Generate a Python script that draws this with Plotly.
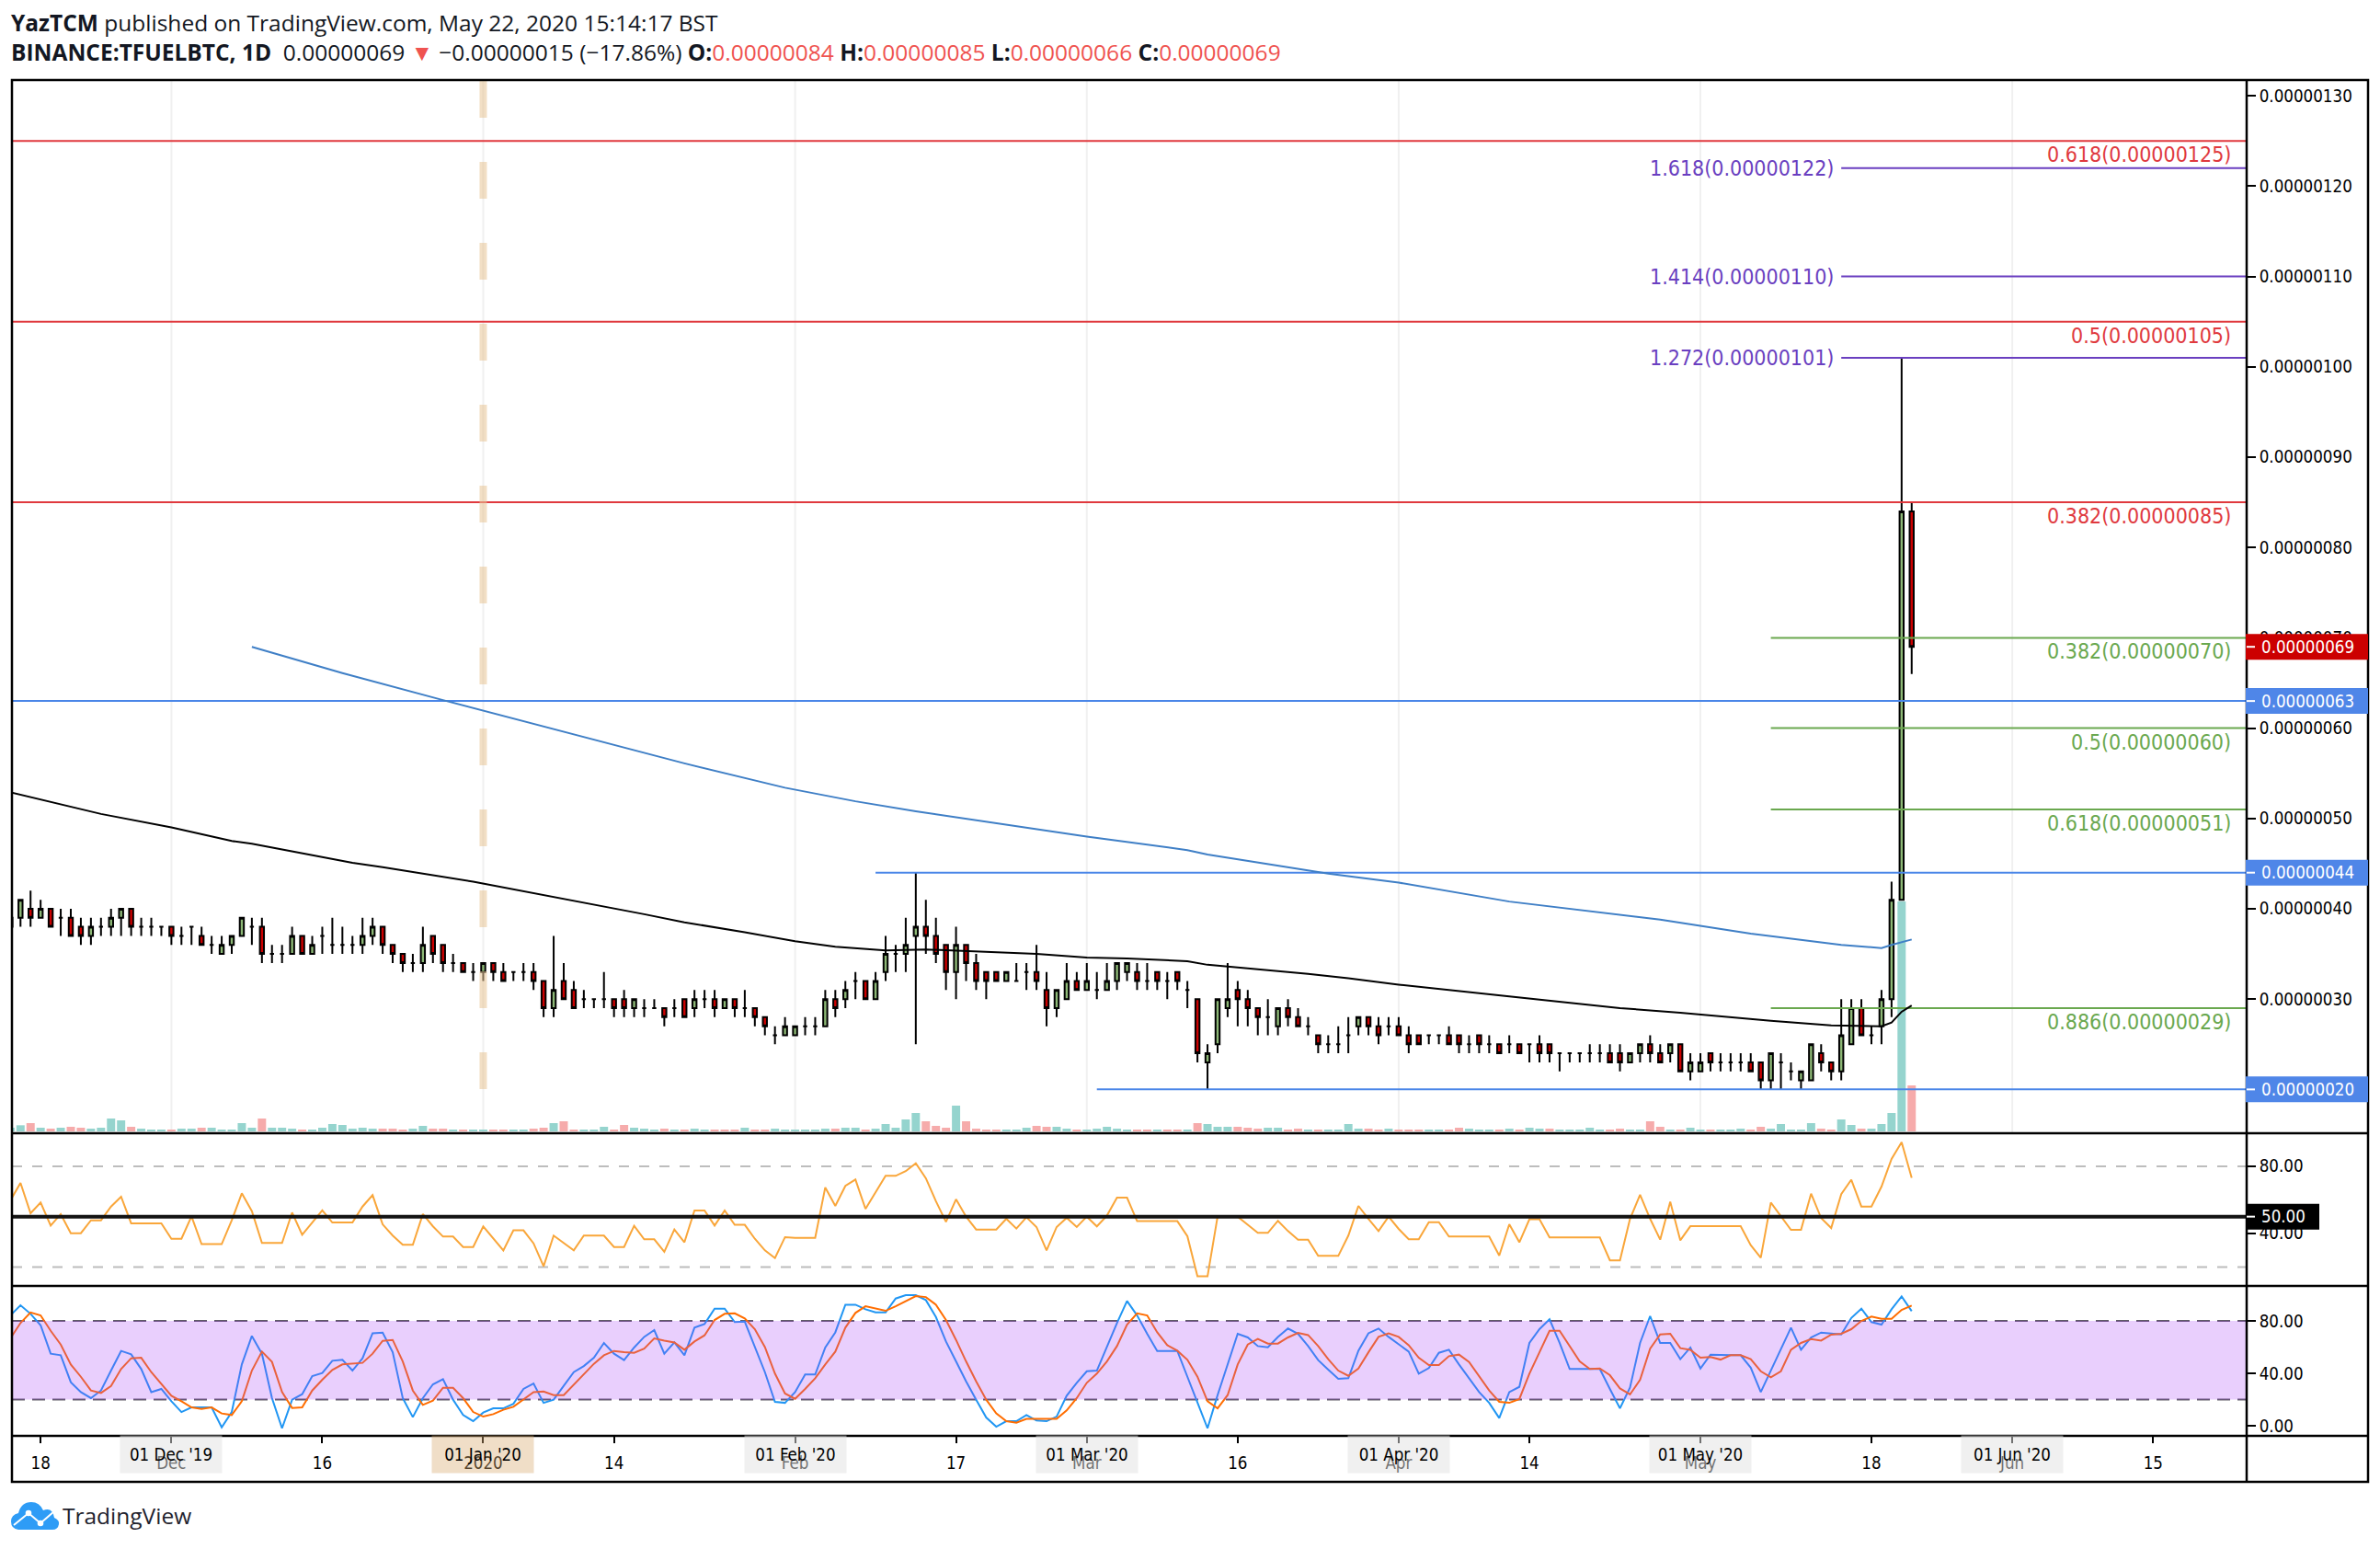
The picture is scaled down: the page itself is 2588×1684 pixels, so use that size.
import pandas as pd
import plotly.graph_objects as go

# ---- Daily series, prices in units of 0.00000001 BTC (one row = ten sessions) ----
first_day = "2019-11-15"

opens = [
    39, 39, 40, 39, 40, 39, 39, 38, 37, 38,
    38, 39, 40, 38, 38, 38, 38, 37, 38, 37,
    36, 35, 36, 37, 38, 38, 35, 35, 35, 37,
    35, 37, 36, 36, 36, 36, 37, 38, 36, 35,
    34, 34, 37, 36, 34, 34, 33, 33, 34, 33,
    33, 33, 33, 32, 29, 32, 31, 30, 30, 30,
    30, 30, 29, 29, 29, 29, 29, 30, 29, 30,
    30, 29, 30, 29, 29, 28, 26, 26, 26, 27,
    27, 27, 30, 30, 32, 32, 30, 33, 35, 35,
    37, 38, 37, 36, 33, 36, 34, 33, 33, 32,
    32, 33, 33, 31, 29, 30, 32, 31, 31, 31,
    32, 33, 33, 32, 33, 32, 33, 31, 30, 23,
    25, 29, 31, 30, 29, 28, 27, 29, 28, 27,
    26, 25, 25, 26, 27, 28, 27, 27, 27, 26,
    26, 26, 26, 26, 26, 25, 26, 25, 25, 25,
    25, 25, 25, 25, 24, 24, 24, 24, 24, 24,
    24, 23, 24, 25, 24, 24, 25, 22, 22, 24,
    23, 23, 23, 23, 23, 21, 23, 22, 21, 21,
    24, 23, 22, 25, 29, 26, 27, 30, 41, 84,
]
highs = [
    39, 41, 42, 41, 40, 40, 40, 39, 39, 39,
    40, 40, 40, 39, 39, 38, 38, 38, 38, 38,
    37, 37, 37, 39, 39, 39, 36, 36, 38, 37,
    37, 38, 39, 38, 37, 39, 39, 38, 36, 35,
    35, 38, 37, 36, 35, 34, 34, 34, 34, 34,
    33, 34, 34, 32, 37, 34, 32, 31, 30, 33,
    30, 31, 30, 30, 30, 29, 30, 30, 31, 31,
    31, 30, 30, 31, 29, 28, 27, 28, 27, 28,
    28, 31, 31, 32, 33, 32, 33, 37, 36, 39,
    44, 41, 39, 36, 38, 36, 35, 33, 33, 33,
    34, 34, 36, 33, 31, 34, 33, 34, 33, 34,
    34, 34, 34, 34, 33, 33, 33, 32, 30, 25,
    30, 34, 32, 31, 29, 30, 29, 30, 29, 28,
    26, 26, 27, 28, 28, 28, 28, 28, 28, 27,
    26, 26, 26, 27, 26, 26, 26, 26, 25, 26,
    25, 25, 26, 25, 24, 24, 24, 25, 25, 25,
    25, 24, 25, 26, 25, 25, 25, 24, 24, 24,
    24, 24, 24, 24, 23, 24, 24, 23, 22, 25,
    25, 23, 30, 30, 30, 27, 31, 43, 101, 85,
]
lows = [
    38, 38, 38, 39, 38, 37, 37, 36, 36, 37,
    37, 37, 37, 37, 37, 37, 36, 36, 36, 36,
    35, 35, 35, 37, 36, 34, 34, 34, 35, 35,
    35, 35, 35, 35, 35, 35, 36, 35, 34, 33,
    33, 33, 34, 33, 33, 33, 32, 32, 32, 32,
    32, 32, 31, 28, 28, 30, 29, 29, 29, 29,
    28, 28, 28, 28, 29, 27, 28, 28, 28, 29,
    28, 29, 28, 28, 27, 26, 25, 26, 26, 26,
    26, 27, 28, 29, 30, 30, 30, 32, 33, 33,
    25, 35, 34, 31, 30, 32, 31, 30, 32, 32,
    32, 31, 31, 27, 28, 30, 31, 31, 30, 31,
    31, 32, 31, 31, 31, 30, 31, 29, 23, 20,
    24, 28, 27, 27, 26, 26, 26, 27, 27, 26,
    24, 24, 24, 24, 26, 26, 25, 26, 26, 24,
    25, 25, 25, 25, 24, 24, 24, 24, 24, 24,
    24, 23, 23, 23, 22, 23, 23, 23, 23, 23,
    22, 23, 23, 23, 23, 23, 22, 21, 22, 22,
    22, 22, 22, 22, 20, 20, 20, 21, 20, 21,
    22, 21, 21, 25, 26, 25, 25, 28, 41, 66,
]
closes = [
    38, 41, 39, 40, 38, 39, 37, 37, 38, 38,
    39, 40, 38, 38, 38, 38, 37, 37, 38, 36,
    36, 36, 37, 39, 38, 35, 35, 35, 37, 35,
    36, 37, 36, 36, 36, 37, 38, 36, 35, 34,
    34, 36, 35, 34, 34, 33, 33, 34, 33, 32,
    33, 33, 32, 29, 31, 30, 29, 30, 30, 30,
    29, 29, 30, 29, 29, 28, 29, 28, 30, 30,
    29, 30, 29, 29, 28, 27, 26, 27, 27, 27,
    27, 30, 29, 31, 32, 30, 32, 35, 35, 36,
    38, 37, 35, 33, 36, 34, 32, 32, 32, 33,
    32, 33, 32, 29, 31, 32, 31, 32, 31, 32,
    34, 34, 32, 32, 32, 32, 32, 31, 24, 24,
    30, 30, 30, 29, 28, 28, 29, 28, 27, 27,
    25, 25, 25, 26, 28, 27, 26, 27, 26, 25,
    25, 26, 26, 25, 25, 25, 25, 25, 24, 25,
    24, 25, 24, 24, 24, 24, 24, 24, 24, 23,
    23, 24, 25, 24, 23, 25, 22, 23, 23, 23,
    23, 23, 23, 22, 21, 24, 23, 22, 22, 25,
    23, 22, 26, 29, 26, 26, 30, 41, 84, 69,
]

# Volume bars, in relative units; 'T' marks a teal bar and 'P' a pink one.
volumes = [
    12, 20, 27, 12, 9, 12, 15, 12, 9, 12,
    42, 36, 15, 9, 6, 6, 6, 9, 9, 12,
    12, 6, 6, 27, 12, 42, 12, 12, 9, 6,
    6, 12, 24, 21, 9, 12, 9, 9, 9, 6,
    9, 18, 9, 9, 6, 6, 6, 6, 6, 6,
    6, 6, 9, 12, 27, 33, 6, 6, 6, 15,
    6, 21, 12, 9, 6, 9, 6, 6, 9, 6,
    6, 6, 6, 12, 6, 6, 9, 6, 6, 6,
    6, 9, 9, 12, 12, 6, 9, 24, 12, 39,
    60, 33, 18, 12, 84, 33, 9, 6, 6, 6,
    6, 12, 18, 15, 15, 9, 6, 6, 9, 15,
    9, 6, 6, 6, 6, 6, 6, 6, 27, 24,
    15, 15, 15, 12, 9, 12, 12, 6, 9, 6,
    6, 6, 6, 24, 9, 9, 6, 9, 6, 6,
    6, 6, 6, 6, 12, 9, 6, 6, 6, 9,
    6, 12, 9, 9, 6, 6, 6, 12, 6, 6,
    9, 6, 6, 33, 15, 6, 6, 12, 6, 6,
    6, 6, 9, 6, 15, 9, 24, 6, 6, 27,
    9, 6, 39, 21, 9, 9, 24, 60, 750, 150,
]
volume_sides = (
    "TTPTPTPPTT" "TTPTTTPTTP" "TTTTTPTTTP" "TTTTTTTPPP" "TTPPTPTTPP"
    "TTPPTPPTTT" "PPTTTPTPTT" "PPPTPPTTTT" "TTPTTPTTTT" "TPPPTPPPPT"
    "TTPPTTPTTT" "TTPPTPPTPT" "TTPPPTTPPT" "PTTTTPPTPP" "PTTPPTTTPT"
    "PTTPTTTTTP" "PTTPPTPTTP" "TTTPPTTTTT" "PPTTPTTTTP"
)

black_avg_days = [-47, -38, -31, -25, -23, -13, -10, -1, 16, 20, 26, 31, 35, 40, 44,
                  51, 55, 60, 64, 70, 72, 74, 82, 86, 91, 102, 113, 119, 128, 134,
                  139, 140, 141, 142]
black_avg = [52.9, 50.5, 49.0, 47.5, 47.2, 45.1, 44.6, 43.0, 39.4, 38.5, 37.4, 36.4, 35.8, 35.4, 35.5,
             35.2, 35.0, 34.6, 34.5, 34.2, 33.8, 33.6, 32.8, 32.3, 31.6, 30.3, 29.0, 28.5, 27.6, 27.1,
             27.0, 27.4, 28.6, 29.3]

blue_avg_days = [-23, -14, -4, 10, 20, 30, 37, 43, 60, 70, 72, 84, 91, 102, 117, 126, 135, 139, 140, 142]
blue_avg = [69.0, 66.1, 63.1, 59.0, 56.1, 53.4, 51.9, 50.8, 48.0, 46.5, 46.0, 43.9, 42.9, 40.8,
            38.8, 37.25, 36.0, 35.65, 36.0, 36.6]

rsi = [
    59.7, 70.1, 52.0, 58.4, 44.7, 51.5, 40.1, 40.1, 47.8, 47.8,
    56.0, 61.9, 46.0, 46.0, 46.0, 46.0, 36.8, 36.8, 50.2, 33.6,
    33.6, 33.6, 47.8, 63.9, 53.3, 34.3, 34.3, 34.3, 52.4, 39.2,
    46.5, 53.7, 46.5, 46.5, 46.5, 56.0, 62.8, 45.4, 38.7, 33.2,
    33.2, 51.5, 44.2, 38.1, 38.1, 31.9, 31.9, 44.2, 36.8, 29.9,
    41.8, 41.8, 34.1, 20.4, 38.7, 34.1, 29.9, 38.7, 38.7, 38.7,
    31.9, 31.9, 44.5, 36.5, 36.5, 29.0, 42.3, 34.7, 53.7, 53.7,
    44.7, 53.7, 45.1, 45.1, 36.8, 29.9, 25.3, 37.8, 37.4, 37.4,
    37.4, 67.4, 56.4, 68.3, 72.1, 54.6, 64.3, 74.3, 74.3, 77.1,
    81.8, 72.9, 59.2, 46.9, 60.3, 50.0, 42.3, 42.3, 42.3, 48.7,
    42.9, 49.6, 43.8, 29.9, 43.8, 49.3, 43.8, 50.0, 44.2, 50.6,
    61.3, 61.3, 47.3, 47.3, 47.3, 47.3, 47.3, 38.3, 14.4, 14.4,
    50.0, 50.0, 50.0, 45.1, 40.3, 40.3, 47.5, 41.4, 36.3, 36.3,
    26.6, 26.6, 26.6, 38.7, 56.4, 48.7, 41.4, 50.0, 42.7, 36.5,
    36.5, 46.7, 46.7, 38.1, 38.1, 38.1, 38.1, 38.1, 26.8, 45.4,
    34.7, 48.4, 48.4, 37.6, 37.6, 37.6, 37.6, 37.6, 37.6, 23.9,
    23.9, 48.7, 63.0, 48.7, 36.3, 58.8, 35.9, 44.3, 44.3, 44.3,
    44.3, 44.3, 44.3, 33.0, 25.5, 58.4, 50.0, 42.1, 42.1, 63.7,
    49.1, 43.2, 63.4, 72.0, 56.0, 56.0, 67.9, 84.4, 94.4, 73.1,
]
stoch_k = [
    84.2, 91.9, 85.4, 76.7, 55.0, 53.8, 33.2, 25.7, 21.1, 26.9,
    42.1, 57.1, 54.5, 43.3, 25.7, 28.1, 18.7, 10.5, 14.0, 14.0,
    14.0, -1.2, 10.5, 46.8, 68.5, 55.0, 21.1, -1.9, 19.9, 24.1,
    37.9, 40.2, 49.6, 50.3, 42.1, 51.5, 70.6, 71.1, 56.1, 21.1,
    6.6, 21.1, 31.6, 35.6, 19.9, 8.2, 3.5, 10.1, 13.3, 13.3,
    16.8, 28.1, 32.3, 17.5, 19.9, 30.4, 40.9, 45.6, 51.9, 63.2,
    55.0, 50.1, 59.7, 67.8, 73.0, 55.0, 63.6, 53.8, 74.9, 77.7,
    89.4, 89.4, 79.1, 79.5, 60.8, 40.9, 18.3, 17.5, 25.7, 39.1,
    39.1, 59.7, 71.3, 92.4, 92.4, 88.9, 86.5, 86.5, 97.1, 99.6,
    99.6, 95.9, 83.0, 64.3, 49.1, 33.9, 19.9, 6.3, -0.7, 3.5,
    3.5, 8.2, 4.0, 3.5, 7.0, 22.9, 32.8, 41.6, 42.1, 60.8,
    78.4, 95.2, 84.2, 70.2, 57.1, 57.1, 57.1, 37.4, 17.5, -1.9,
    23.4, 46.8, 70.2, 67.4, 60.8, 59.9, 67.8, 74.2, 70.2, 60.8,
    50.1, 42.8, 35.8, 36.3, 57.3, 70.6, 74.2, 67.8, 62.0, 56.6,
    39.8, 44.0, 55.7, 58.0, 46.8, 36.3, 25.7, 17.5, 5.9, 25.7,
    29.7, 63.2, 73.7, 81.2, 63.2, 43.3, 43.3, 43.3, 43.3, 28.1,
    13.3, 29.2, 63.2, 83.7, 63.2, 63.2, 50.8, 59.7, 43.7, 54.3,
    53.8, 53.8, 53.8, 44.4, 25.7, 42.1, 57.3, 74.9, 58.0, 67.4,
    71.1, 70.2, 69.7, 82.3, 89.4, 79.1, 77.2, 88.9, 98.7, 87.5,
]
stoch_d = [
    66.7, 78.4, 86.5, 84.2, 72.5, 62.0, 46.8, 37.4, 26.9, 25.0,
    30.4, 43.3, 51.5, 51.9, 40.9, 31.6, 22.9, 18.7, 14.0, 12.9,
    14.0, 9.4, 8.2, 18.7, 42.1, 56.6, 48.7, 25.7, 13.6, 14.0,
    26.9, 35.1, 42.6, 46.8, 47.5, 48.0, 55.0, 64.8, 65.5, 49.1,
    26.9, 15.9, 19.2, 29.0, 29.0, 21.1, 10.5, 7.0, 8.9, 12.2,
    14.5, 19.9, 25.7, 26.2, 23.4, 23.4, 31.6, 39.8, 47.3, 53.8,
    57.1, 56.1, 55.7, 58.9, 66.7, 65.0, 63.6, 58.0, 64.3, 69.0,
    80.7, 85.4, 85.8, 81.9, 73.7, 60.1, 39.8, 24.6, 20.6, 28.1,
    36.3, 46.8, 56.6, 74.9, 86.1, 91.2, 89.6, 87.7, 91.2, 95.2,
    98.9, 98.2, 92.4, 80.7, 65.5, 49.1, 33.9, 19.9, 9.4, 3.5,
    2.3, 5.2, 5.2, 5.2, 5.2, 11.7, 21.1, 32.8, 39.8, 49.1,
    60.8, 77.2, 85.8, 84.2, 71.3, 61.5, 57.3, 50.3, 37.4, 18.7,
    13.3, 23.4, 46.8, 62.0, 66.2, 62.7, 62.7, 67.4, 70.9, 69.2,
    60.8, 50.8, 42.1, 38.1, 43.7, 56.1, 67.8, 70.6, 67.8, 61.5,
    51.9, 46.3, 46.3, 53.1, 54.3, 48.7, 37.4, 26.9, 18.3, 17.5,
    20.4, 39.8, 56.1, 72.5, 72.5, 60.8, 49.1, 43.3, 43.7, 38.6,
    28.5, 23.9, 35.1, 58.9, 69.7, 70.2, 59.2, 58.0, 51.9, 52.4,
    50.5, 53.8, 53.8, 50.8, 41.6, 37.0, 41.6, 58.0, 63.2, 66.2,
    65.0, 69.5, 70.2, 73.7, 80.0, 83.3, 81.6, 81.6, 88.4, 91.7,
]

# Horizontal levels: value, label ratio
upper_fib_levels = [125, 105, 85]
upper_fib_ratios = ["0.618", "0.5", "0.382"]
extension_levels = [122, 110, 101]
extension_ratios = ["1.618", "1.414", "1.272"]
lower_fib_levels = [70, 60, 51, 29]
lower_fib_ratios = ["0.382", "0.5", "0.618", "0.886"]
support_levels = [63, 44, 20]
support_start_days = [-47, 39, 61]
last_price = 69

price_ticks = [30, 40, 50, 60, 70, 80, 90, 100, 110, 120, 130]
rsi_ticks = [80, 40]
stoch_ticks = [80, 40, 0]
time_tick_dates = ["2019-11-18", "2019-12-01", "2019-12-16", "2020-01-01", "2020-01-14", "2020-02-01",
                   "2020-02-17", "2020-03-01", "2020-03-16", "2020-04-01", "2020-04-14", "2020-05-01",
                   "2020-05-18", "2020-06-01", "2020-06-15"]
time_tick_labels = ["18", "Dec", "16", "2020", "14", "Feb", "17", "Mar", "16", "Apr", "14", "May", "18", "Jun", "15"]
month_dates = ["2019-12-01", "2020-01-01", "2020-02-01", "2020-03-01", "2020-04-01", "2020-05-01", "2020-06-01"]
month_stamps = ["01 Dec '19", "01 Jan '20", "01 Feb '20", "01 Mar '20", "01 Apr '20", "01 May '20", "01 Jun '20"]

# ---- Styling ----
AXIS_FONT = "DejaVu Sans Condensed, Open Sans, sans-serif"
HEAD_FONT = "Open Sans, sans-serif"
FONT_SIZE = 18.6
NOTE_SIZE = 23
UP_FILL, DOWN_FILL = "#8DB876", "#CC0000"
TEAL, PINK = "#95D4CE", "#F6ABAB"
RED_LINE, GREEN_LINE, PURPLE_LINE, BLUE_LINE = "#E0393E", "#6AA84F", "#6A3FC0", "#4A86E8"
QUOTE_RED = "#EF5350"

WIDTH, HEIGHT = 2588, 1684
LEFT, RIGHT, AXIS_RIGHT = 13, 2443, 2575
TOP, MAIN_BOTTOM, RSI_BOTTOM, STOCH_BOTTOM, TIME_BOTTOM = 87, 1232, 1398, 1561, 1611
PLOT_H = STOCH_BOTTOM - TOP


def fx(px):
    return (px - LEFT) / (RIGHT - LEFT)


def fy(py):
    return (STOCH_BOTTOM - py) / PLOT_H


dates = pd.date_range(first_day, periods=len(opens))
epoch = pd.Timestamp("2020-01-01")


def on_day(day):
    return epoch + pd.Timedelta(days=day)


x_start = on_day(-46.85)
x_end = on_day(175.3)

fig = go.Figure()

fig.add_trace(go.Bar(
    x=dates, y=volumes, yaxis="y", xaxis="x",
    marker=dict(color=[TEAL if s == "T" else PINK for s in volume_sides], line_width=0),
    hoverinfo="skip", showlegend=False,
))
fig.add_trace(go.Candlestick(
    x=dates, open=opens, high=highs, low=lows, close=closes, yaxis="y2", xaxis="x",
    increasing=dict(line=dict(color="#000000", width=2), fillcolor=UP_FILL),
    decreasing=dict(line=dict(color="#000000", width=2), fillcolor=DOWN_FILL),
    whiskerwidth=0, hoverinfo="skip", showlegend=False,
))


def level(y0, start, color, axis="y2", width=2, dash=None, end=x_end):
    fig.add_trace(go.Scatter(
        x=[start, end], y=[y0, y0], mode="lines", yaxis=axis, xaxis="x",
        line=dict(color=color, width=width, dash=dash), hoverinfo="skip", showlegend=False,
    ))


for value in upper_fib_levels:
    level(value, x_start, RED_LINE)
for value, day in zip(support_levels, support_start_days):
    level(value, on_day(day), BLUE_LINE)
for value in extension_levels:
    level(value, on_day(135), PURPLE_LINE)
for value in lower_fib_levels:
    level(value, on_day(128), GREEN_LINE)

fig.add_trace(go.Scatter(
    x=[on_day(d) for d in black_avg_days], y=black_avg, mode="lines", yaxis="y2", xaxis="x",
    line=dict(color="#000000", width=2), hoverinfo="skip", showlegend=False,
))
fig.add_trace(go.Scatter(
    x=[on_day(d) for d in blue_avg_days], y=blue_avg, mode="lines", yaxis="y2", xaxis="x",
    line=dict(color="#3F7FC6", width=2), hoverinfo="skip", showlegend=False,
))

# RSI pane
level(80, x_start, "#BDBDBD", axis="y3", dash="11px,11px")
level(20, x_start, "#BDBDBD", axis="y3", dash="11px,11px")
fig.add_trace(go.Scatter(
    x=dates, y=rsi, mode="lines", yaxis="y3", xaxis="x",
    line=dict(color="#F9A63A", width=2), hoverinfo="skip", showlegend=False,
))
level(50, x_start, "#131313", axis="y3", width=4)

# Stochastic RSI pane
level(80, x_start, "#5F5B66", axis="y4", dash="14px,8px")
level(20, x_start, "#5F5B66", axis="y4", dash="14px,8px")
fig.add_trace(go.Scatter(
    x=dates, y=stoch_k, mode="lines", yaxis="y4", xaxis="x",
    line=dict(color="#2196F3", width=2), hoverinfo="skip", showlegend=False,
))
fig.add_trace(go.Scatter(
    x=dates, y=stoch_d, mode="lines", yaxis="y4", xaxis="x",
    line=dict(color="#FF6D00", width=2), hoverinfo="skip", showlegend=False,
))

shapes = []
annotations = []

# Month grid lines, main pane only
for day in month_dates:
    shapes.append(dict(type="line", layer="below", xref="x", yref="paper",
                       x0=day, x1=day, y0=fy(MAIN_BOTTOM), y1=1,
                       line=dict(color="#F0F0F0", width=2)))

# Session break marking the new year
shapes.append(dict(type="line", layer="above", xref="x", yref="paper",
                   x0="2020-01-01", x1="2020-01-01", y0=fy(1184), y1=1,
                   line=dict(color="rgba(232,196,150,0.55)", width=8, dash="40px,48px")))

# Oversold/overbought band of the stochastic pane, tinting the lines under it
shapes.append(dict(type="rect", layer="above", xref="paper", yref="y4",
                   x0=0, x1=1, y0=20, y1=80, line_width=0,
                   fillcolor="rgba(168,64,248,0.25)"))

# Pane frame
frame = dict(color="#000000", width=2.5)
shapes.append(dict(type="rect", layer="above", xref="paper", yref="paper",
                   x0=fx(LEFT), x1=fx(AXIS_RIGHT), y0=fy(TIME_BOTTOM), y1=fy(TOP), line=frame))
for py in (MAIN_BOTTOM, RSI_BOTTOM, STOCH_BOTTOM):
    shapes.append(dict(type="line", layer="above", xref="paper", yref="paper",
                       x0=fx(LEFT), x1=fx(AXIS_RIGHT), y0=fy(py), y1=fy(py), line=frame))
shapes.append(dict(type="line", layer="above", xref="paper", yref="paper",
                   x0=fx(RIGHT), x1=fx(RIGHT), y0=fy(TIME_BOTTOM), y1=fy(TOP), line=frame))


def value_tag(value, axis, text, fill, right=AXIS_RIGHT, text_center=2509):
    shapes.append(dict(type="rect", layer="above", xref="paper", yref=axis,
                       ysizemode="pixel", yanchor=value, y0=-14, y1=14,
                       x0=fx(RIGHT - 1), x1=fx(right), line_width=0, fillcolor=fill))
    shapes.append(dict(type="line", layer="above", xref="paper", yref=axis,
                       x0=fx(RIGHT), x1=fx(RIGHT + 9), y0=value, y1=value,
                       line=dict(color="#FFFFFF", width=2)))
    annotations.append(dict(xref="paper", yref=axis, x=fx(text_center), y=value, text=text,
                            showarrow=False, xanchor="center", yanchor="middle",
                            font=dict(family=AXIS_FONT, size=FONT_SIZE, color="#FFFFFF")))


def satoshi_text(value):
    return f"{value * 1e-8:.8f}"


value_tag(last_price, "y2", satoshi_text(last_price), "#CC0000")
for value in support_levels:
    value_tag(value, "y2", satoshi_text(value), "#4F86E8")
value_tag(50, "y3", "50.00", "#000000", right=2522, text_center=2483)


def level_note(value, ratio, color, px_right, shift):
    annotations.append(dict(xref="paper", yref="y2", x=fx(px_right), y=value,
                            text=f"{ratio}({satoshi_text(value)})", showarrow=False,
                            xanchor="right", yanchor="middle", yshift=shift,
                            font=dict(family=AXIS_FONT, size=NOTE_SIZE, color=color)))


for value, ratio in zip(upper_fib_levels, upper_fib_ratios):
    level_note(value, ratio, RED_LINE, 2428, -15)
for value, ratio in zip(lower_fib_levels, lower_fib_ratios):
    level_note(value, ratio, GREEN_LINE, 2428, -15)
for value, ratio in zip(extension_levels, extension_ratios):
    level_note(value, ratio, PURPLE_LINE, 1996, 0)

# Stamped dates on the time axis; the plates are see-through so the month names show under them
for day, stamp in zip(month_dates, month_stamps):
    new_year = day == "2020-01-01"
    annotations.append(dict(xref="x", yref="paper", x=day, y=fy(1581), text=stamp, showarrow=False,
                            xanchor="center", yanchor="middle", width=108, height=38,
                            bgcolor="rgba(218,172,114,0.4)" if new_year else "rgba(225,225,225,0.5)",
                            font=dict(family=AXIS_FONT, size=FONT_SIZE, color="#000000")))

# Publication header
annotations.append(dict(
    xref="paper", yref="paper", x=fx(10), y=fy(24), xanchor="left", yanchor="middle", showarrow=False,
    text="<b>YazTCM</b> published on TradingView.com, May 22, 2020 15:14:17 BST",
    font=dict(family=HEAD_FONT, size=24.5, color="#131722"),
))
red = f'<span style="color:{QUOTE_RED}">'
annotations.append(dict(
    xref="paper", yref="paper", x=fx(10), y=fy(57), xanchor="left", yanchor="middle", showarrow=False,
    text=("<b>BINANCE:TFUELBTC, 1D</b>  0.00000069 " + red + "▼</span> −0.00000015 (−17.86%) "
          "<b>O:</b>" + red + "0.00000084</span> <b>H:</b>" + red + "0.00000085</span> "
          "<b>L:</b>" + red + "0.00000066</span> <b>C:</b>" + red + "0.00000069</span>"),
    font=dict(family=HEAD_FONT, size=24.5, color="#131722"),
))

# Footer brand mark
cloud = [("M", 20, 1663), ("Q", 12, 1662, 12, 1654), ("Q", 12, 1647, 20, 1645), ("Q", 23, 1633, 34, 1633),
         ("Q", 43, 1633, 47, 1642), ("Q", 57, 1638, 59, 1650), ("Q", 65, 1653, 64, 1657), ("Q", 63, 1663, 57, 1663)]
path = " ".join(
    seg[0] + " " + " ".join(f"{fx(seg[i]):.5f},{fy(seg[i + 1]):.5f}" for i in range(1, len(seg), 2))
    for seg in cloud
) + " Z"
shapes.append(dict(type="path", layer="above", xref="paper", yref="paper", path=path,
                   fillcolor="#2E9CF6", line_width=0))
zig = [(15, 1658), (31, 1645), (44, 1656), (59, 1643)]
path = "M " + " L ".join(f"{fx(a):.5f},{fy(b):.5f}" for a, b in zig)
shapes.append(dict(type="path", layer="above", xref="paper", yref="paper", path=path,
                   line=dict(color="#FFFFFF", width=2)))
for a, b in zig[1:3]:
    shapes.append(dict(type="circle", layer="above", xref="paper", yref="paper",
                       x0=fx(a - 3.3), x1=fx(a + 3.3), y0=fy(b + 3.3), y1=fy(b - 3.3),
                       fillcolor="#FFFFFF", line_width=0))
annotations.append(dict(xref="paper", yref="paper", x=fx(66), y=fy(1647), xanchor="left", yanchor="middle",
                        showarrow=False, text="TradingView",
                        font=dict(family=HEAD_FONT, size=24.5, color="#1E222D")))

axis_style = dict(
    side="right", anchor="x", showgrid=False, zeroline=False, showline=False,
    ticks="outside", ticklen=9, tickwidth=2, tickcolor="#000000", tickmode="array",
    tickfont=dict(family=AXIS_FONT, size=FONT_SIZE, color="#000000"),
)
main_floor = fy(MAIN_BOTTOM)
rsi_floor = fy(RSI_BOTTOM)

fig.update_layout(
    width=WIDTH, height=HEIGHT, autosize=False,
    margin=dict(l=LEFT, r=WIDTH - RIGHT, t=TOP, b=HEIGHT - STOCH_BOTTOM, pad=0),
    paper_bgcolor="#FFFFFF", plot_bgcolor="#FFFFFF",
    showlegend=False, bargap=0.18, boxgap=0.42, hovermode=False,
    xaxis=dict(
        type="date", range=[x_start, x_end], anchor="y4", rangeslider_visible=False,
        showgrid=False, zeroline=False, showline=False,
        tickmode="array", tickvals=time_tick_dates, ticktext=time_tick_labels,
        ticks="outside", ticklen=7, tickwidth=2, tickcolor="#000000",
        ticklabelstandoff=6,
        tickfont=dict(family=AXIS_FONT, size=FONT_SIZE, color="#000000"),
    ),
    yaxis=dict(domain=[main_floor, 1], range=[-6, 3429], visible=False, anchor="x"),
    yaxis2=dict(overlaying="y", range=[15.15, 131.75],
                tickvals=price_ticks, ticktext=[satoshi_text(v) for v in price_ticks], **axis_style),
    yaxis3=dict(domain=[rsi_floor, main_floor], range=[8.7, 99.7],
                tickvals=rsi_ticks, ticktext=[f"{v:.2f}" for v in rsi_ticks], **axis_style),
    yaxis4=dict(domain=[0, rsi_floor], range=[-7.7, 106.7],
                tickvals=stoch_ticks, ticktext=[f"{v:.2f}" for v in stoch_ticks], **axis_style),
    shapes=shapes, annotations=annotations,
)

assert len(opens) == len(highs) == len(lows) == len(closes) == len(volumes) == len(volume_sides) \
    == len(rsi) == len(stoch_k) == len(stoch_d)

fig.write_html("out.html")
